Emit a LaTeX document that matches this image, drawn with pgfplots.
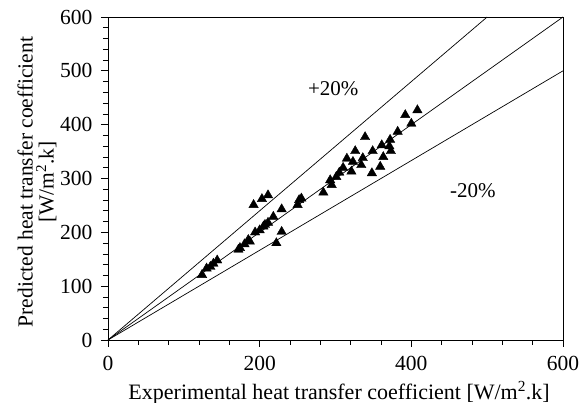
\documentclass[border=0pt]{standalone}
\usepackage{pgfplots}
\pgfplotsset{compat=1.18}
\usepackage{fontspec}
\setmainfont{Liberation Serif}
\begin{document}
\begin{tikzpicture}
% page frame: axis box sits at (0,0)-(455pt,323pt)
\path[use as bounding box] (-108pt,-63pt) rectangle (471pt,340pt);
\begin{axis}[
  anchor=south west, at={(0,0)},
  scale only axis,
  width=455pt, height=323pt,
  xmin=0, xmax=600, ymin=0, ymax=600,
  xtick={0,200,400,600}, ytick={0,100,...,600},
  minor x tick num=4, minor y tick num=4,
  xtick pos=bottom, ytick pos=left,
  tick align=outside,
  major tick length=7pt, minor tick length=5pt,
  tick style={black, line width=0.7pt},
  axis line style={black, line width=0.7pt},
  /pgf/number format/assume math mode=true,
  tick label style={font=\fontsize{21.5}{23}\selectfont},
  xticklabel style={yshift=-6pt},
  yticklabel style={xshift=-5pt},
  xlabel={Experimental heat transfer coefficient [W/m\textsuperscript{2}.k]},
  xlabel style={at={(axis description cs:0.508,-0.183)}, anchor=base,
    font=\fontsize{22}{24}\selectfont},
  ylabel={Predicted heat transfer coefficient\\{}[W/m\textsuperscript{2}.k]},
  ylabel style={at={(axis description cs:-0.156,0.489)}, anchor=center,
    align=center, font=\fontsize{21.5}{21}\selectfont},
  clip=false,
]
% frame on top and right
\draw[black, line width=0.7pt] (rel axis cs:0,1) -- (rel axis cs:1,1) -- (rel axis cs:1,0);
% reference lines: y = 1.2x, y = x, y = x/1.2
\addplot[black, line width=0.7pt] coordinates {(0,0) (500,600)};
\addplot[black, line width=0.7pt] coordinates {(0,0) (600,600)};
\addplot[black, line width=0.7pt] coordinates {(0,0) (600,500)};
\addplot[only marks, mark=triangle*, mark size=5.4pt, black] coordinates {
  (124,121) (130,133) (135,136) (139,142) (144,148)
  (172,168) (174,171) (180,178) (185,186) (187,183)
  (194,200) (200,204) (205,211) (207,214) (211,218)
  (218,229) (222,180) (229,201) (229,243)
  (192,251) (203,262) (211,269)
  (250,251) (252,260) (255,263)
  (284,274) (293,297) (295,288) (301,303) (305,311)
  (310,320) (315,337) (321,313) (323,331) (326,351)
  (334,325) (336,338) (339,377) (348,310) (349,351)
  (359,322) (361,362) (363,340) (371,360) (372,372)
  (373,351) (382,387) (392,418) (400,402) (408,427)
};
\node[font=\fontsize{21}{23}\selectfont] at (axis cs:297,466) {+20\%};
\node[font=\fontsize{21}{23}\selectfont] at (axis cs:481,277) {-20\%};
\end{axis}
\end{tikzpicture}
\end{document}
